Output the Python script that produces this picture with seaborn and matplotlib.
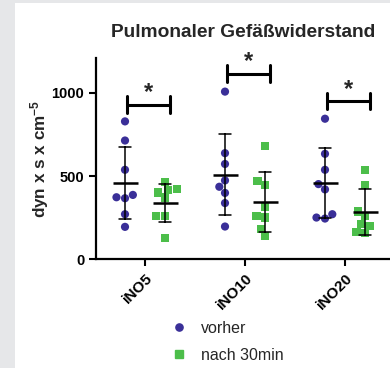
import numpy as np
import pandas as pd
import matplotlib
matplotlib.use("Agg")
import matplotlib.pyplot as plt
from matplotlib.patches import Rectangle
from matplotlib.lines import Line2D
import seaborn as sns

# ---------------- data ----------------
categories = ["iNO5", "iNO10", "iNO20"]
groups = ["vorher", "nach 30min"]
vorher_ino5 = [829, 714, 538, 373, 387, 367, 271, 195]
nach_ino5 = [464, 417, 421, 401, 371, 261, 261, 126]
vorher_ino10 = [1008, 638, 573, 474, 436, 399, 338, 197]
nach_ino10 = [681, 471, 446, 315, 261, 251, 182, 138]
vorher_ino20 = [845, 634, 538, 452, 420, 271, 245, 251]
nach_ino20 = [536, 449, 287, 261, 211, 199, 157, 166]
sig_heights = [930, 1115, 950]
sig_labels = ["*", "*", "*"]
yticks = [0, 500, 1000]
title = "Pulmonaler Gefäßwiderstand"
ylabel = "dyn x s x cm$^{-5}$"
colors = {"vorher": "#3a2f98", "nach 30min": "#4cbe4a"}

series = {
    ("iNO5", "vorher"): vorher_ino5, ("iNO5", "nach 30min"): nach_ino5,
    ("iNO10", "vorher"): vorher_ino10, ("iNO10", "nach 30min"): nach_ino10,
    ("iNO20", "vorher"): vorher_ino20, ("iNO20", "nach 30min"): nach_ino20,
}
rows = []
for (cat, grp), vals in series.items():
    for v in vals:
        rows.append({"cat": cat, "group": grp, "val": v})
df = pd.DataFrame(rows)

# ---------------- style ----------------
sns.set_theme(style="ticks")
plt.rcParams["font.family"] = ["Liberation Sans", "DejaVu Sans"]
plt.rcParams["mathtext.fontset"] = "custom"
plt.rcParams["mathtext.rm"] = "Liberation Sans"
plt.rcParams["mathtext.bf"] = "Liberation Sans:bold"
plt.rcParams["mathtext.default"] = "bf"

fig = plt.figure(figsize=(3.9, 3.68), dpi=100)
fig.patch.set_facecolor("#e6e7e9")
fig.add_artist(Rectangle((15 / 390, 0), 1 - 15 / 390, (368 - 3) / 368,
                         transform=fig.transFigure, facecolor="white",
                         edgecolor="none", zorder=0))

ax = fig.add_axes([96 / 390, (368 - 259.3) / 368, 294 / 390, 201.3 / 368])
ax.patch.set_alpha(0)

markers = {"vorher": "o", "nach 30min": "s"}
for grp in groups:
    sns.swarmplot(data=df[df["group"] == grp], x="cat", y="val", hue="group",
                  order=categories, hue_order=groups, dodge=True,
                  palette=colors, marker=markers[grp], size=5.9,
                  linewidth=0, legend=False, ax=ax, zorder=3)

sns.pointplot(data=df, x="cat", y="val", hue="group", order=categories,
              hue_order=groups, dodge=0.4,
              palette={g: "black" for g in groups}, errorbar="sd",
              capsize=0.12, markers="_", linestyles="none",
              markersize=18, markeredgewidth=1.8,
              err_kws={"linewidth": 1.1}, legend=False, ax=ax)
for ln in ax.lines:
    ln.set_zorder(5)

# significance brackets
for i, (h, lab) in enumerate(zip(sig_heights, sig_labels)):
    x0, x1 = i - 0.18, i + 0.25
    ax.plot([x0, x1], [h, h], color="black", lw=2.2, solid_capstyle="butt", clip_on=False)
    ax.plot([x0, x0], [h - 48, h + 52], color="black", lw=2.2, clip_on=False)
    ax.plot([x1, x1], [h - 48, h + 52], color="black", lw=2.2, clip_on=False)
    ax.text((x0 + x1) / 2, h + 4, lab, ha="center", va="bottom",
            fontsize=17, fontweight="bold")

ax.set_xlim(-0.49, 2.45)
ax.set_ylim(0, 1210)
ax.set_yticks(yticks)
ax.set_xlabel("")
ax.set_ylabel(ylabel, fontsize=12.3, fontweight="bold", labelpad=0)
ax.set_title(title, fontsize=13.8, fontweight="bold", pad=15)
sns.despine(ax=ax)
for s in ["left", "bottom"]:
    ax.spines[s].set_linewidth(1.6)
    ax.spines[s].set_color("black")
ax.tick_params(direction="out", length=5, width=1.5, labelsize=10.5, colors="black")
for lbl in ax.get_yticklabels():
    lbl.set_fontweight("bold")
for lbl in ax.get_xticklabels():
    lbl.set_fontweight("bold")
    lbl.set_fontsize(11)
    lbl.set_rotation(45)
    lbl.set_ha("right")
    lbl.set_rotation_mode("anchor")

handles = [Line2D([], [], marker=markers[g], color=colors[g], linestyle="none",
                  markersize=5.2) for g in groups]
fig.legend(handles, groups, loc="upper left", bbox_to_anchor=(171 / 390, 1 - 321 / 368),
           frameon=False, fontsize=11.5, handlelength=1.0, handletextpad=0.9,
           labelspacing=0.75, borderpad=0, borderaxespad=0)

fig.savefig("out.png", dpi=100)
